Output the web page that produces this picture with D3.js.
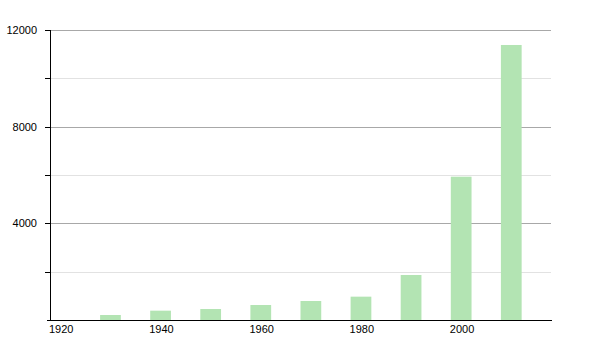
<!DOCTYPE html>
<html>
<head>
<meta charset="utf-8">
<script src="https://cdn.jsdelivr.net/npm/d3@7"></script>
<style>
  body { margin: 0; background: #fff; }
  text { font-family: "Liberation Sans", Arial, sans-serif; font-size: 11px; fill: #000; }
</style>
</head>
<body>
<div id="chart"></div>
<script>
const years = [1930, 1940, 1950, 1960, 1970, 1980, 1990, 2000, 2010]
const population = [207, 386, 455, 620, 786, 966, 1862, 5930, 11380]
const xTickLabels = [1920, 1940, 1960, 1980, 2000]
const yMajorTicks = [4000, 8000, 12000]
const yMinorTicks = [2000, 6000, 10000]

const width = 600
const height = 350
const margin = { top: 30, right: 49, bottom: 30, left: 50 }

const svg = d3.select("#chart")
  .append("svg")
    .attr("width", width)
    .attr("height", height)

const x = d3.scaleLinear()
  .domain([1920, 2020])
  .range([margin.left, width - margin.right])

const y = d3.scaleLinear()
  .domain([0, 12000])
  .range([height - margin.bottom, margin.top])

// grid lines
svg.append("g")
  .selectAll("line.minor")
  .data(yMinorTicks)
  .join("line")
    .attr("class", "minor")
    .attr("x1", x(1920))
    .attr("x2", x(2020))
    .attr("y1", d => Math.round(y(d)) + 0.5)
    .attr("y2", d => Math.round(y(d)) + 0.5)
    .attr("stroke", "#e2e2e2")

svg.append("g")
  .selectAll("line.major")
  .data(yMajorTicks)
  .join("line")
    .attr("class", "major")
    .attr("x1", x(1920))
    .attr("x2", x(2020))
    .attr("y1", d => Math.round(y(d)) + 0.5)
    .attr("y2", d => Math.round(y(d)) + 0.5)
    .attr("stroke", "#a8a8a8")

// bars
svg.append("g")
  .selectAll("rect")
  .data(years)
  .join("rect")
    .attr("x", d => x(d))
    .attr("width", x(1924) - x(1920) + 0.7)
    .attr("y", (d, i) => y(population[i]))
    .attr("height", (d, i) => y(0) - y(population[i]))
    .attr("fill", "#b3e4b3")

// y axis
const yAxis = svg.append("g")
yAxis.append("line")
  .attr("x1", x(1920) + 0.5)
  .attr("x2", x(1920) + 0.5)
  .attr("y1", y(12000))
  .attr("y2", y(0))
  .attr("stroke", "#000")

yAxis.selectAll("line.tick")
  .data(yMajorTicks.concat(yMinorTicks))
  .join("line")
    .attr("class", "tick")
    .attr("x1", x(1920) - 5)
    .attr("x2", x(1920))
    .attr("y1", d => Math.round(y(d)) + 0.5)
    .attr("y2", d => Math.round(y(d)) + 0.5)
    .attr("stroke", "#000")

yAxis.selectAll("text")
  .data(yMajorTicks)
  .join("text")
    .attr("x", x(1920) - 13)
    .attr("y", d => y(d) + 4)
    .attr("text-anchor", "end")
    .text(d => d)

// x axis
svg.append("line")
  .attr("x1", x(1920) - 3)
  .attr("x2", x(2020) + 1)
  .attr("y1", Math.round(y(0)) + 0.5)
  .attr("y2", Math.round(y(0)) + 0.5)
  .attr("stroke", "#000")

svg.append("g")
  .selectAll("text")
  .data(xTickLabels)
  .join("text")
    .attr("x", d => x(d) - 1)
    .attr("y", y(0) + 13)
    .text(d => d)
</script>
</body>
</html>
